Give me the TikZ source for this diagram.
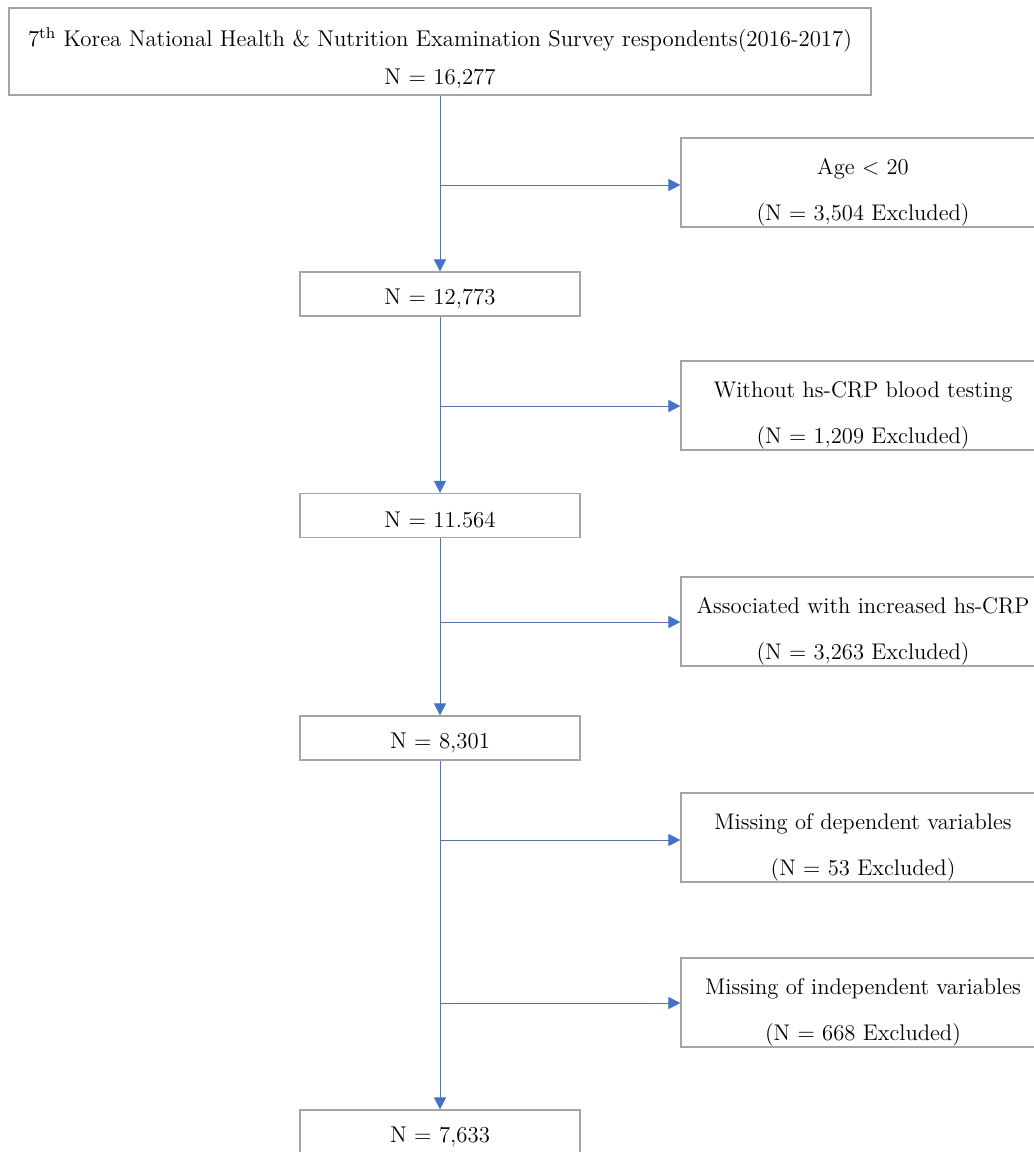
\documentclass[tikz,border=0pt]{standalone}
\usetikzlibrary{arrows.meta}
\definecolor{flowblue}{HTML}{4472C4}
\definecolor{linegray}{HTML}{5A73A8}
\definecolor{boxgray}{HTML}{A5A5A5}
\tikzset{
  box/.style={draw=boxgray, line width=0.6pt, inner sep=0pt, align=center,
    font=\fontsize{11.4}{19}\selectfont},
  topbox/.style={box, minimum width=431pt, minimum height=43.5pt,
    text height=35.5pt},
  mainbox/.style={box, minimum width=140pt, minimum height=22pt,
    text height=12.5pt},
  exbox/.style={box, minimum width=182pt, minimum height=44.5pt,
    font=\fontsize{11.3}{23}\selectfont, text height=41pt},
  flow/.style={draw=linegray, line width=0.5pt,
    -{Triangle[length=6pt,width=6pt,color=flowblue]}},
}
\begin{document}
\begin{tikzpicture}[x=0.5pt,y=-0.5pt]
    \clip (0,0) rectangle (1034,1152);
    \fill[white] (0,0) rectangle (1034,1152);
    % Main boxes
    \node[topbox] (survey) at (440,51.5)
      {7\textsuperscript{th} Korea National Health \& Nutrition Examination Survey respondents(2016-2017)\\N = 16,277};
    \node[mainbox] (n1) at (440,294) {N = 12,773};
    \node[mainbox] (n2) at (440,515.5) {N = 11.564};
    \node[mainbox] (n3) at (440,738) {N = 8,301};
    \node[mainbox] (n4) at (440,1132) {N = 7,633};
    % Excluded
    \node[exbox] (ex1) at (863,182.5) {Age < 20\\(N = 3,504 Excluded)};
    \node[exbox] (ex2) at (863,405.5) {Without hs-CRP blood testing\\(N = 1,209 Excluded)};
    \node[exbox] (ex3) at (863,621.5) {Associated with increased hs-CRP\\(N = 3,263 Excluded)};
    \node[exbox] (ex4) at (863,837.5) {Missing of dependent variables\\(N = 53 Excluded)};
    \node[exbox] (ex5) at (863,1002.5) {Missing of independent variables\\(N = 668 Excluded)};
    % Flow
    \draw[flow] (survey) -- (n1);
    \draw[flow] (n1) -- (n2);
    \draw[flow] (n2) -- (n3);
    \draw[flow] (n3) -- (n4);
    % Branches
    \coordinate (b1) at (440,185);
    \coordinate (b2) at (440,406);
    \coordinate (b3) at (440,622);
    \coordinate (b4) at (440,840);
    \coordinate (b5) at (440,1003);
    \foreach \i in {1,...,5} {
      \draw[flow] (b\i) -- (b\i -| ex\i.west);
    }
  \end{tikzpicture}
\end{document}
